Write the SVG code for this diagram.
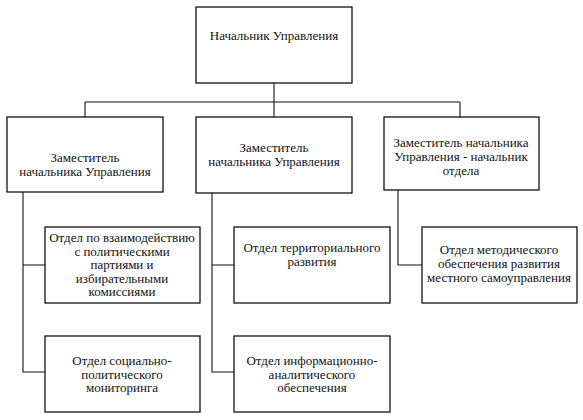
<svg xmlns="http://www.w3.org/2000/svg" width="583" height="420" viewBox="0 0 583 420">
<style>
.box{fill:#fff;stroke:#111;stroke-width:1.3}
.con{fill:none;stroke:#111;stroke-width:1.1}
text{font-family:"Liberation Serif","Times New Roman","DejaVu Serif",serif;font-size:13px;fill:#111;text-anchor:middle}
</style>
<rect width="583" height="420" fill="#fff"/>
<g id="connectors">
<path class="con" d="M274 83V102M85 102H460M85 102V117M274 102V117M460 102V117"/>
<path class="con" d="M23 192V372H45M23 265H45"/>
<path class="con" d="M212 193V372H234M212 265H234"/>
<path class="con" d="M398 190V265H422"/>
</g>
<g id="head" font-family="Liberation Serif, serif">
<rect class="box" x="196" y="7" width="156" height="76"/>
<text x="274" y="40">Начальник Управления</text>
</g>
<g id="deputy1">
<rect class="box" x="7" y="117" width="156" height="75"/>
<text x="85" y="162">Заместитель</text>
<text x="85" y="176">начальника Управления</text>
</g>
<g id="deputy2">
<rect class="box" x="196" y="117" width="156" height="76"/>
<text x="274" y="152">Заместитель</text>
<text x="274" y="166">начальника Управления</text>
</g>
<g id="deputy3">
<rect class="box" x="384" y="117" width="155" height="73"/>
<text x="461" y="147">Заместитель начальника</text>
<text x="461" y="161">Управления - начальник</text>
<text x="461" y="175">отдела</text>
</g>
<g id="dept-parties">
<rect class="box" x="45" y="227" width="155" height="76"/>
<text x="122" y="242">Отдел по взаимодействию</text>
<text x="122" y="255.5">с политическими</text>
<text x="122" y="269">партиями и</text>
<text x="122" y="282.5">избирательными</text>
<text x="122" y="296">комиссиями</text>
</g>
<g id="dept-monitoring">
<rect class="box" x="45" y="336" width="155" height="76"/>
<text x="122" y="365">Отдел социально-</text>
<text x="122" y="378.5">политического</text>
<text x="122" y="392">мониторинга</text>
</g>
<g id="dept-territorial">
<rect class="box" x="234" y="227" width="156" height="76"/>
<text x="312" y="252">Отдел территориального</text>
<text x="312" y="266">развития</text>
</g>
<g id="dept-info">
<rect class="box" x="234" y="336" width="156" height="76"/>
<text x="312" y="365">Отдел информационно-</text>
<text x="312" y="378.5">аналитического</text>
<text x="312" y="392">обеспечения</text>
</g>
<g id="dept-methodic">
<rect class="box" x="422" y="227" width="155" height="76"/>
<text x="499" y="254">Отдел методического</text>
<text x="499" y="268">обеспечения развития</text>
<text x="499" y="282">местного самоуправления</text>
</g>
</svg>
